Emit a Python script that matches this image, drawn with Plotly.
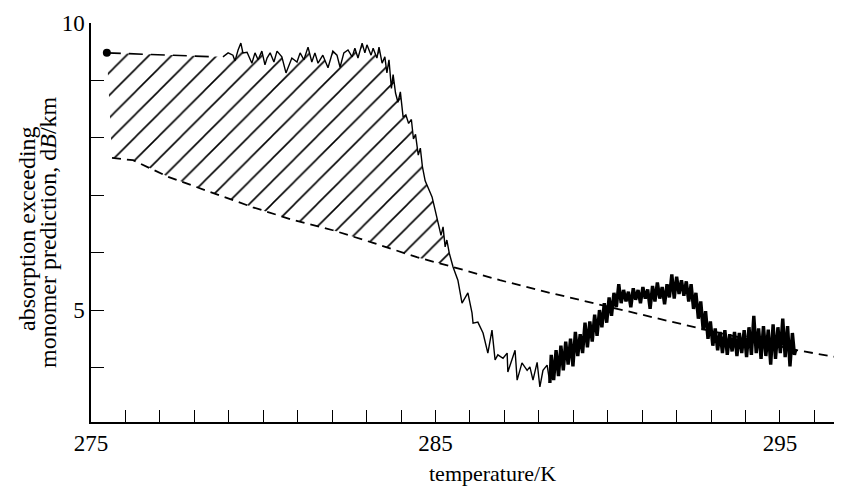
import plotly.graph_objects as go

# ---- data ----
# measured trace, slow part (K, dB/km)
SCAN_T_A = [278.83, 278.98, 279.12, 279.18, 279.27, 279.35, 279.41, 279.53, 279.67, 279.76,
            279.85, 279.96, 280.05, 280.11, 280.20, 280.31, 280.40, 280.54, 280.66, 280.72,
            280.83, 280.98, 281.07, 281.18, 281.30, 281.41, 281.50, 281.59, 281.73, 281.88,
            282.02, 282.14, 282.23, 282.34, 282.46, 282.58, 282.66, 282.75, 282.87, 282.95,
            283.01, 283.13, 283.19, 283.30, 283.36, 283.45, 283.53, 283.59, 283.65, 283.72,
            283.77, 283.84, 283.91, 283.98, 284.06, 284.14, 284.22, 284.30, 284.36, 284.42,
            284.50, 284.56, 284.62, 284.70, 284.78, 284.90, 284.99, 285.07, 285.16, 285.22,
            285.28, 285.33, 285.40, 285.51, 285.65, 285.77, 285.86, 285.94, 286.06, 286.09,
            286.23, 286.38, 286.52, 286.64, 286.73, 286.81, 286.96, 287.08, 287.10, 287.22,
            287.31, 287.37, 287.51, 287.66, 287.74, 287.83, 287.95, 288.03, 288.12, 288.24,
            288.32]
SCAN_A_A = [9.41, 9.48, 9.44, 9.34, 9.53, 9.65, 9.48, 9.49, 9.30, 9.48,
            9.36, 9.51, 9.27, 9.39, 9.48, 9.32, 9.51, 9.41, 9.13, 9.23,
            9.39, 9.32, 9.48, 9.36, 9.58, 9.32, 9.48, 9.30, 9.44, 9.22,
            9.51, 9.44, 9.23, 9.48, 9.53, 9.41, 9.56, 9.39, 9.65, 9.48,
            9.62, 9.44, 9.56, 9.39, 9.58, 9.30, 9.41, 9.13, 9.36, 8.86,
            9.10, 8.78, 8.62, 8.80, 8.36, 8.40, 8.25, 8.32, 7.98, 8.06,
            7.70, 7.82, 7.50, 7.25, 7.14, 6.97, 6.74, 6.52, 6.30, 6.45,
            6.10, 6.22, 5.99, 5.75, 5.52, 5.12, 5.23, 5.30, 4.95, 4.77,
            4.79, 4.60, 4.25, 4.65, 4.13, 4.22, 4.16, 4.25, 3.92, 4.13,
            4.30, 3.78, 4.08, 3.95, 4.01, 3.78, 4.09, 3.66, 3.95, 4.04,
            3.73]

# measured trace, fast (dense, noisy) part
SCAN_T_B = [288.32, 288.36, 288.43, 288.50, 288.57, 288.64, 288.71, 288.78, 288.85, 288.92, 288.99,
            289.06, 289.13, 289.20, 289.27, 289.34, 289.41, 289.48, 289.55, 289.62, 289.69,
            289.76, 289.83, 289.90, 289.97, 290.04, 290.11, 290.18, 290.25, 290.32, 290.39,
            290.46, 290.53, 290.60, 290.67, 290.74, 290.81, 290.88, 290.95, 291.02, 291.09,
            291.16, 291.23, 291.30, 291.37, 291.44, 291.51, 291.58, 291.65, 291.72, 291.79,
            291.86, 291.93, 292.00, 292.07, 292.14, 292.21, 292.28, 292.35, 292.42, 292.49,
            292.56, 292.63, 292.70, 292.77, 292.84, 292.91, 292.98, 293.05, 293.12, 293.19,
            293.26, 293.33, 293.40, 293.47, 293.54, 293.61, 293.68, 293.75, 293.82, 293.89,
            293.96, 294.03, 294.10, 294.17, 294.24, 294.31, 294.38, 294.45, 294.52, 294.59,
            294.66, 294.73, 294.80, 294.87, 294.94, 295.01, 295.08, 295.15, 295.22, 295.29,
            295.36, 295.42, 295.46]
SCAN_A_B = [3.73, 4.22, 3.78, 4.30, 3.85, 4.38, 3.95, 4.45, 4.05, 4.50, 4.02,
            4.62, 4.20, 4.58, 4.25, 4.78, 4.35, 4.80, 4.45, 4.92, 4.55,
            5.00, 4.70, 5.12, 4.78, 5.22, 4.90, 5.30, 5.05, 5.45, 5.12,
            5.35, 5.15, 5.32, 5.05, 5.38, 5.18, 5.35, 5.12, 5.40, 5.20,
            5.36, 5.02, 5.42, 5.15, 5.48, 5.20, 5.40, 5.10, 5.45, 5.22,
            5.62, 5.20, 5.58, 5.28, 5.52, 5.25, 5.50, 5.15, 5.45, 5.02,
            5.30, 4.85, 5.15, 4.65, 4.98, 4.50, 4.80, 4.38, 4.68, 4.30,
            4.62, 4.25, 4.65, 4.22, 4.58, 4.28, 4.62, 4.20, 4.60, 4.25,
            4.65, 4.18, 4.70, 4.22, 4.90, 4.25, 4.68, 4.15, 4.72, 4.20,
            4.66, 4.05, 4.75, 4.15, 4.70, 4.25, 4.85, 4.18, 4.72, 4.02,
            4.60, 4.22, 4.32]

# upper dashed extrapolation (with the starting dot)
UPPER_T = [275.46, 278.62]
UPPER_A = [9.48, 9.41]

# lower dashed line (monomer-derived baseline)
LOWER_T = [275.61, 276.22, 277.24, 278.45, 279.70, 280.86, 282.02, 283.19, 284.46,
           285.51, 286.87, 288.32, 289.57, 290.27, 292.88, 295.49, 296.65]
LOWER_A = [7.65, 7.61, 7.32, 7.06, 6.79, 6.57, 6.39, 6.17, 5.92,
           5.75, 5.52, 5.30, 5.12, 5.03, 4.65, 4.30, 4.18]

# hatched region ends where the trace meets the lower dashed line
HATCH_END_T = 285.51

X_TICKS = list(range(275, 297))
X_LABELS = ["275" if t == 275 else "285" if t == 285 else "295" if t == 295 else "" for t in X_TICKS]
Y_TICKS = [4, 5, 6, 7, 8, 9, 10]
Y_LABELS = ["", "5", "", "", "", "", "10"]

FONT = "Liberation Serif"

# page body has an 8px default margin; figure sized so plot area lands where the reference has it
FIG_W, FIG_H = 834, 480

# hatched polygon: upper dashed + trace (up to crossing) + lower dashed reversed
up_t = UPPER_T + [t for t in SCAN_T_A if t <= HATCH_END_T]
up_a = UPPER_A + [a for t, a in zip(SCAN_T_A, SCAN_A_A) if t <= HATCH_END_T]
lo_pairs = [(t, a) for t, a in zip(LOWER_T, LOWER_A) if t <= HATCH_END_T]
poly_t = up_t + [p[0] for p in reversed(lo_pairs)]
poly_a = up_a + [p[1] for p in reversed(lo_pairs)]

fig = go.Figure()

fig.add_trace(go.Scatter(
    x=poly_t, y=poly_a, mode="lines", fill="toself",
    line=dict(width=0, color="rgba(0,0,0,0)"),
    fillcolor="rgba(0,0,0,0)",
    fillpattern=dict(shape="/", size=16, solidity=0.1, fgcolor="black",
                     bgcolor="rgba(0,0,0,0)", fillmode="replace"),
    hoverinfo="skip", showlegend=False))

fig.add_trace(go.Scatter(
    x=LOWER_T, y=LOWER_A, mode="lines",
    line=dict(color="black", width=1.8, dash="9px,6px"), showlegend=False))

fig.add_trace(go.Scatter(
    x=UPPER_T, y=UPPER_A, mode="lines",
    line=dict(color="black", width=1.6, dash="14px,8px"), showlegend=False))

fig.add_trace(go.Scatter(
    x=SCAN_T_A, y=SCAN_A_A, mode="lines",
    line=dict(color="black", width=1.4), showlegend=False))

fig.add_trace(go.Scatter(
    x=SCAN_T_B, y=SCAN_A_B, mode="lines",
    line=dict(color="black", width=3.4), showlegend=False))

fig.add_trace(go.Scatter(
    x=UPPER_T[:1], y=UPPER_A[:1], mode="markers",
    marker=dict(color="black", size=8), showlegend=False))

L, R, T, B = 83, 0, 15, 66
plot_w = FIG_W - L - R
plot_h = FIG_H - T - B


def px_x(px):  # page pixel -> paper x
    return (px - 8 - L) / plot_w


def px_y(py):  # page pixel -> paper y
    return 1 - (py - 8 - T) / plot_h


fig.update_layout(
    width=FIG_W, height=FIG_H,
    margin=dict(l=L, r=R, t=T, b=B, autoexpand=False),
    paper_bgcolor="white", plot_bgcolor="white",
    font=dict(family=FONT, size=23, color="black"),
    showlegend=False,
    xaxis=dict(range=[275, 296.8], showline=True, linecolor="black", linewidth=1.5,
               ticks="inside", ticklen=12, tickwidth=1.3, tickcolor="black",
               tickvals=X_TICKS, ticktext=X_LABELS, showgrid=False, zeroline=False,
               tickfont=dict(family=FONT, size=23)),
    yaxis=dict(range=[3.05, 10], showline=True, linecolor="black", linewidth=1.5,
               ticks="inside", ticklen=13, tickwidth=1.3, tickcolor="black",
               tickvals=Y_TICKS, ticktext=Y_LABELS, showgrid=False, zeroline=False,
               tickfont=dict(family=FONT, size=23)),
    annotations=[
        dict(text="temperature/K", xref="paper", yref="paper",
             x=px_x(492), y=px_y(473),
             xanchor="center", yanchor="middle", showarrow=False,
             font=dict(family=FONT, size=22)),
        dict(text="absorption exceeding", xref="paper", yref="paper",
             x=px_x(27), y=px_y(229), textangle=-90,
             xanchor="center", yanchor="middle", showarrow=False,
             font=dict(family=FONT, size=24)),
        dict(text="monomer prediction, d<i>B</i>/km", xref="paper", yref="paper",
             x=px_x(48), y=px_y(232), textangle=-90,
             xanchor="center", yanchor="middle", showarrow=False,
             font=dict(family=FONT, size=24)),
    ],
)

fig.write_html("out.html")
